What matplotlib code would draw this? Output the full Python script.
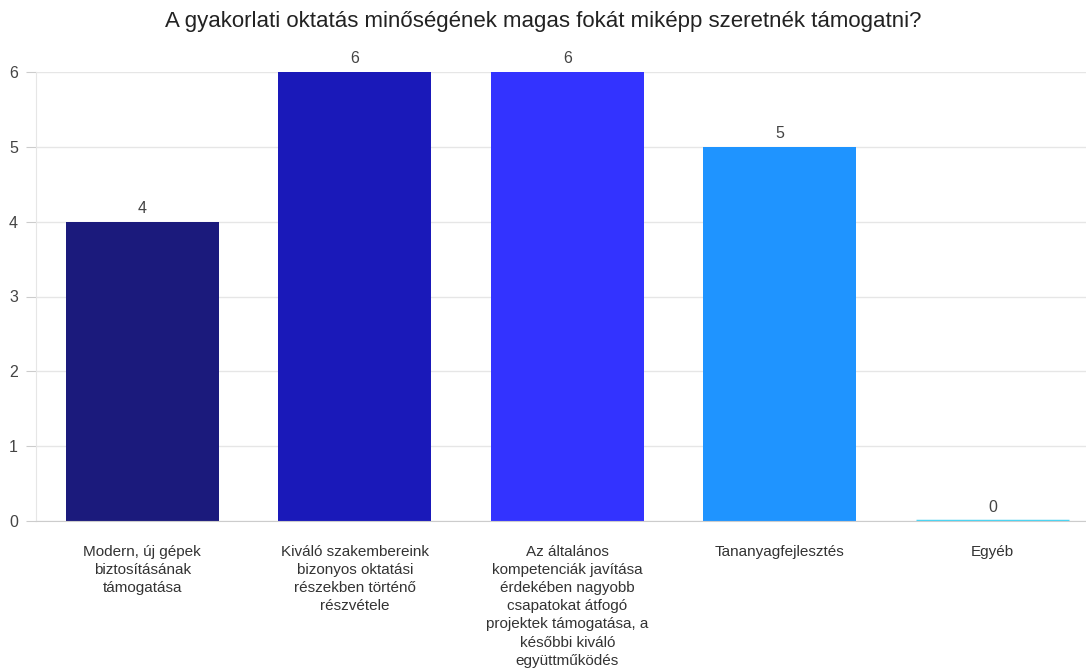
import matplotlib
matplotlib.use("Agg")
import matplotlib.pyplot as plt

plt.rcParams['font.family'] = ['Liberation Sans', 'DejaVu Sans']

title = "A gyakorlati oktatás minőségének magas fokát miképp szeretnék támogatni?"
categories = [
    "Modern, új gépek\nbiztosításának\ntámogatása",
    "Kiváló szakembereink\nbizonyos oktatási\nrészekben történő\nrészvétele",
    "Az általános\nkompetenciák javítása\nérdekében nagyobb\ncsapatokat átfogó\nprojektek támogatása, a\nkésőbbi kiváló\negyüttműködés",
    "Tananyagfejlesztés",
    "Egyéb",
]
values = [4, 6, 6, 5, 0]
colors = ["#1b1a7c", "#1a19b9", "#3333ff", "#1f94ff", "#4dd4f2"]

fig = plt.figure(figsize=(10.86, 6.72), dpi=100)
ax = fig.add_axes([36 / 1086, 151 / 672, 1 - 36 / 1086, 449 / 672])

x = list(range(len(values)))
ax.bar(x, values, width=0.72, color=colors, zorder=3)
# zero-height bar still shows as a thin line
ax.bar(x[4], values[4], width=0.72, color=colors[4], edgecolor=colors[4],
       linewidth=2.5, zorder=5)

for xi, v in zip(x, values):
    ax.annotate(str(v), (xi, v), xytext=(0, 4), textcoords="offset points",
                ha="center", va="bottom", fontsize=11.5, color="#444444")

ax.set_xlim(-0.5, 4.44)
ax.set_ylim(0, 6)
ax.set_yticks(range(7))
ax.yaxis.grid(True, color="#e6e6e6", linewidth=1, zorder=0)
ax.tick_params(axis="y", length=7, color="#cccccc", labelsize=11.5,
               labelcolor="#444444", pad=6)
ax.set_xticks(x)
ax.set_xticklabels(categories, fontsize=11, color="#333333", linespacing=1.38)
ax.tick_params(axis="x", length=0, pad=17)
for s in ["top", "right"]:
    ax.spines[s].set_visible(False)
ax.spines["left"].set_color("#e6e6e6")
ax.spines["bottom"].set_color("#cccccc")
ax.spines["bottom"].set_zorder(4)

fig.text(0.5, 1 - 22 / 672, title, ha="center", va="center",
         fontsize=16, color="#222222")

fig.savefig("out.png", dpi=100)
